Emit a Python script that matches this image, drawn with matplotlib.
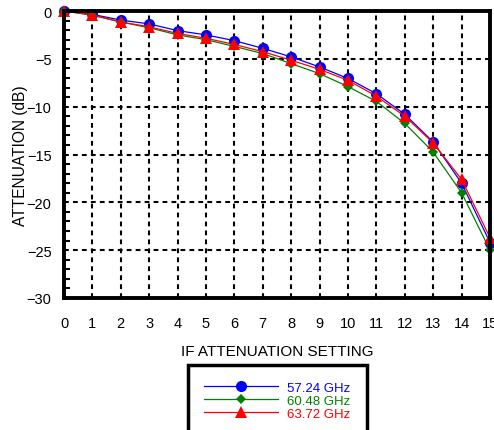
import numpy as np
import matplotlib.pyplot as plt
from matplotlib.ticker import MultipleLocator

plt.rcParams["font.family"] = ["Liberation Sans", "DejaVu Sans"]

settings = list(range(16))
att_5724 = [0.0, -0.35, -0.95, -1.35, -2.05, -2.5, -3.1, -3.9, -4.8, -5.85,
            -7.05, -8.65, -10.8, -13.7, -18.0, -24.2]
att_6048 = [0.0, -0.45, -1.15, -1.75, -2.5, -3.0, -3.7, -4.45, -5.5, -6.55,
            -7.9, -9.45, -11.75, -14.75, -19.0, -25.0]
att_6372 = [0.0, -0.4, -1.15, -1.65, -2.35, -2.85, -3.5, -4.25, -5.15, -6.1,
            -7.25, -8.9, -11.0, -13.8, -17.6, -23.7]

series = [
    ("57.24 GHz", att_5724, "#0000ff", "o", 8),
    ("60.48 GHz", att_6048, "#008000", "D", 5.5),
    ("63.72 GHz", att_6372, "#ff0000", "^", 8),
]


def main():
    fig = plt.figure(figsize=(4.94, 4.31), dpi=100)
    ax = fig.add_axes([64 / 494, 1 - 299 / 431, 426 / 494, 287 / 431])

    for label, vals, color, marker, ms in series:
        ax.plot(settings, vals, color=color, lw=0.9, marker=marker,
                markersize=ms, markeredgewidth=0, label=label, clip_on=False,
                zorder=3)

    ax.set_xlim(0, 15)
    ax.set_ylim(-30, 0)
    ax.xaxis.set_major_locator(MultipleLocator(1))
    ax.yaxis.set_major_locator(MultipleLocator(5))
    ax.yaxis.set_minor_locator(MultipleLocator(1))
    ax.tick_params(axis="both", which="major", length=0, labelsize=10.5)
    ax.tick_params(axis="x", pad=13)
    ax.tick_params(axis="y", pad=9)
    ax.tick_params(axis="y", which="minor", direction="in", length=4,
                   width=1.5)

    ax.grid(True, which="major", color="black", lw=1.5, ls=(0, (2.3, 2.0)))
    for sp in ax.spines.values():
        sp.set_linewidth(2.8)
        sp.set_zorder(4)

    ax.set_xlabel("IF ATTENUATION SETTING", fontsize=11, labelpad=10)
    ax.set_ylabel("ATTENUATION (dB)", fontsize=11.2, labelpad=-1)

    leg = fig.legend(loc="upper left", bbox_to_anchor=(188 / 494, 1 - 366 / 431),
                     fontsize=9.5, labelcolor="linecolor", fancybox=False,
                     edgecolor="black", framealpha=1, borderpad=1.25,
                     handlelength=5.6, handletextpad=0.65, labelspacing=0.05,
                     borderaxespad=0)
    leg.get_frame().set_linewidth(2.5)

    fig.savefig("out.png", dpi=100)
    plt.close(fig)


if __name__ == "__main__":
    main()
